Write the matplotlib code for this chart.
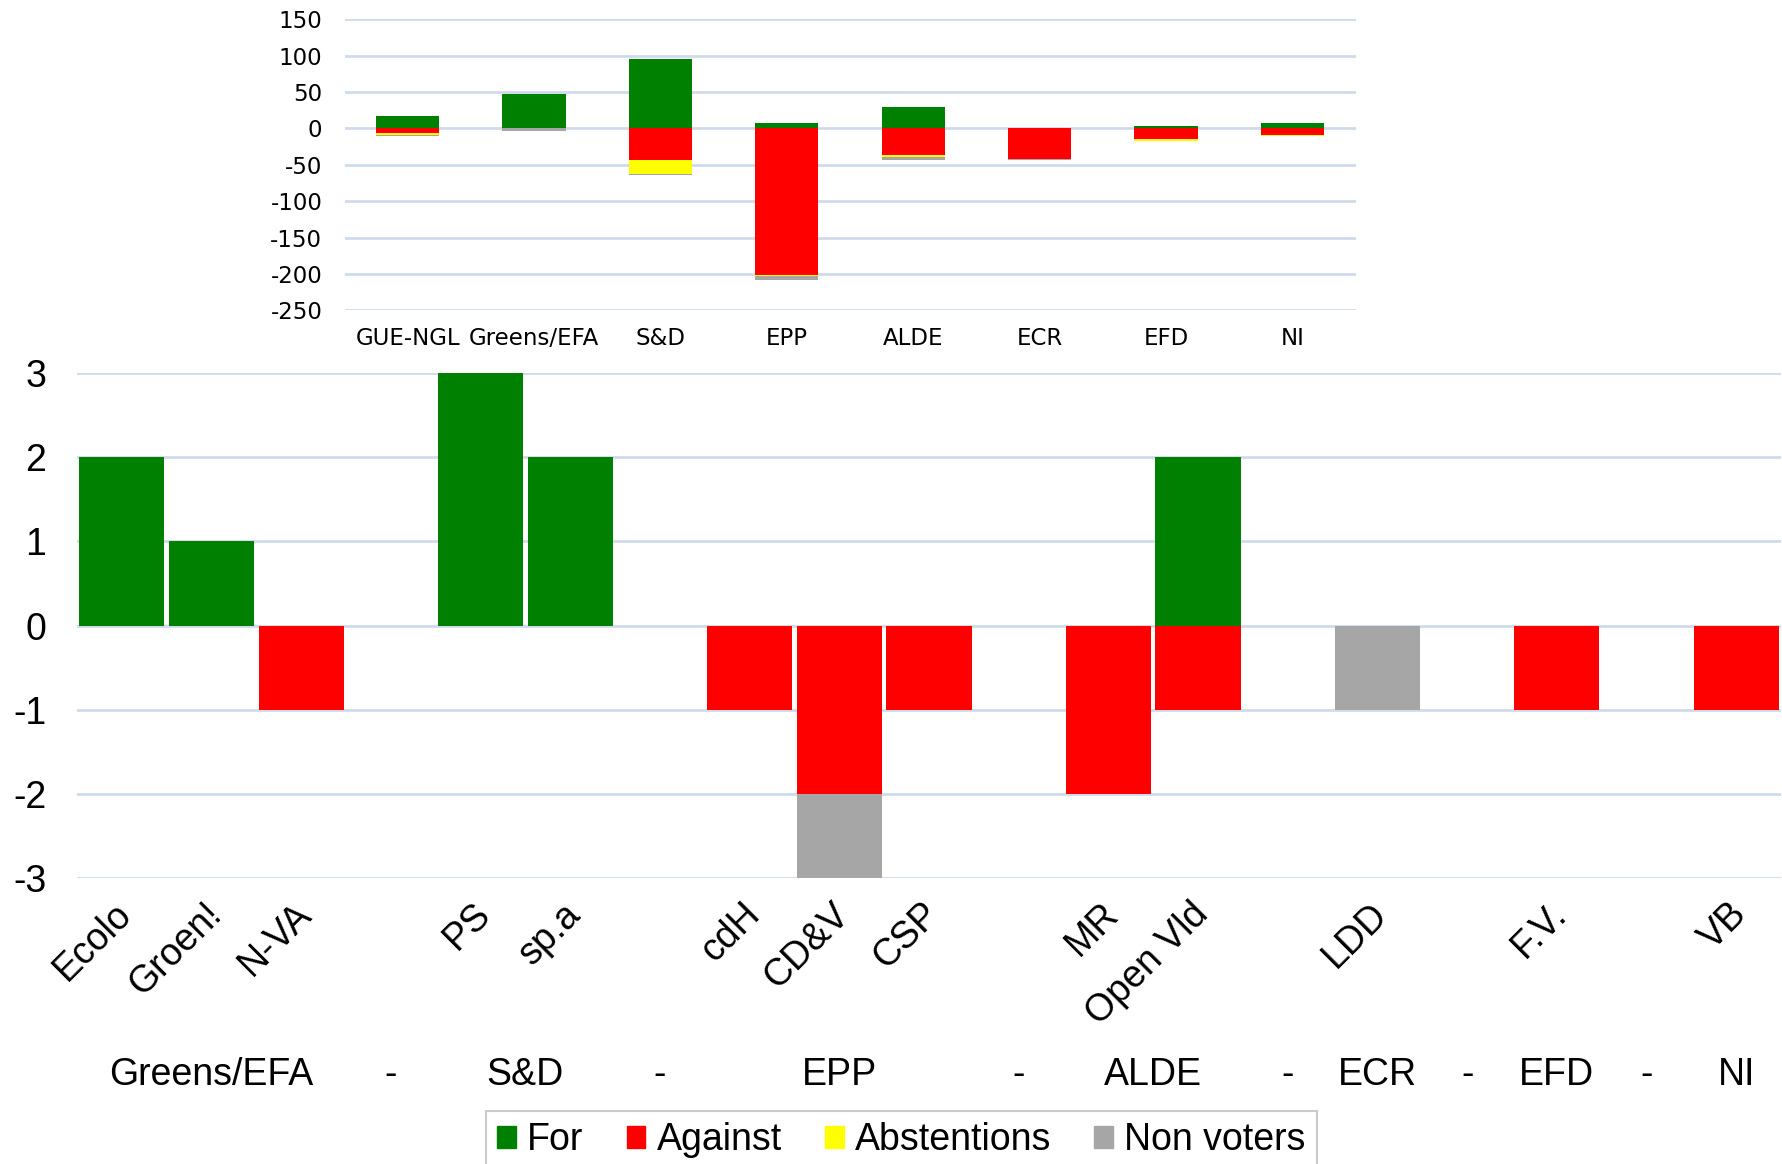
import numpy as np
import matplotlib
matplotlib.use("Agg")
import matplotlib.pyplot as plt
from matplotlib.patches import Patch
from matplotlib.transforms import blended_transform_factory, offset_copy

# European Parliament groups (inset chart)
ep_groups = ["GUE-NGL", "Greens/EFA", "S&D", "EPP", "ALDE", "ECR", "EFD", "NI"]
ep_for = [17, 48, 96, 7, 30, 0, 3, 7]
ep_against = [6, 0, 43, 202, 37, 42, 15, 9]
ep_abst = [3, 0, 19, 1, 2, 0, 2, 2]
ep_non = [1, 4, 2, 5, 4, 1, 0, 0]

# Belgian MEPs by party (main chart), empty slots separate the groups
parties = ["Ecolo", "Groen!", "N-VA", "", "PS", "sp.a", "", "cdH", "CD&V", "CSP", "",
           "MR", "Open Vld", "", "LDD", "", "F.V.", "", "VB"]
be_for = [2, 1, 0, 0, 3, 2, 0, 0, 0, 0, 0, 0, 2, 0, 0, 0, 0, 0, 0]
be_against = [0, 0, 1, 0, 0, 0, 0, 1, 2, 1, 0, 2, 1, 0, 0, 0, 1, 0, 1]
be_abst = [0] * 19
be_non = [0, 0, 0, 0, 0, 0, 0, 0, 1, 0, 0, 0, 0, 0, 1, 0, 0, 0, 0]
group_names = ["Greens/EFA", "-", "S&D", "-", "EPP", "-", "ALDE", "-", "ECR", "-", "EFD", "-", "NI"]
group_sizes = [3, 1, 2, 1, 3, 1, 2, 1, 1, 1, 1, 1, 1]

C_FOR, C_AGAINST, C_ABST, C_NON = "#008000", "#FF0000", "#FFFF00", "#A6A6A6"
GRID = "#D0DAEA"
FS = 27


def stacked(ax, x, f, a, ab, n, width):
    f, a, ab, n = map(np.asarray, (f, a, ab, n))
    ax.bar(x, f, width, color=C_FOR, zorder=2)
    ax.bar(x, -a, width, color=C_AGAINST, zorder=2)
    ax.bar(x, -ab, width, bottom=-a, color=C_ABST, zorder=2)
    ax.bar(x, -n, width, bottom=-a - ab, color=C_NON, zorder=2)


def clean(ax):
    for s in ax.spines.values():
        s.set_visible(False)
    ax.tick_params(length=0)
    ax.yaxis.grid(True, color=GRID, linewidth=2)
    ax.set_axisbelow(True)


W, H = 1783, 1164
fig = plt.figure(figsize=(W / 100, H / 100), dpi=100)

# main chart
ax = fig.add_axes([77 / W, 1 - 878 / H, (1781 - 77) / W, 505 / H])
x = np.arange(len(parties))
stacked(ax, x, be_for, be_against, be_abst, be_non, 0.95)
ax.set_xlim(-0.5, len(parties) - 0.5)
ax.set_ylim(-3, 3)
ax.set_yticks(range(-3, 4))
ax.set_yticklabels([str(v) for v in range(-3, 4)], family="Liberation Sans", fontsize=FS)
clean(ax)
ax.tick_params(axis="y", pad=22)
ax.set_xticks([])

# rotated party names
lab_tr = offset_copy(blended_transform_factory(ax.transData, ax.transAxes),
                     fig=fig, x=-8, y=-18, units="dots")
for xi, name in zip(x, parties):
    if name:
        ax.text(xi, 0, name, transform=lab_tr, rotation=45, rotation_mode="anchor",
                ha="right", va="top", family="Liberation Sans", fontsize=FS)

# group names under the party names
grp_tr = blended_transform_factory(ax.transData, fig.transFigure)
start = 0
for name, size in zip(group_names, group_sizes):
    ax.text(start + (size - 1) / 2, 1 - 1075 / H, name, transform=grp_tr,
            ha="center", va="center", family="Liberation Sans", fontsize=FS)
    start += size

# inset chart with the EP groups
ax2 = fig.add_axes([344.5 / W, 1 - 310.4 / H, 1011 / W, 291.1 / H])
x2 = np.arange(len(ep_groups))
stacked(ax2, x2, ep_for, ep_against, ep_abst, ep_non, 0.5)
ax2.set_xlim(-0.5, len(ep_groups) - 0.5)
ax2.set_ylim(-250, 150)
ax2.set_yticks(range(-250, 151, 50))
ax2.set_yticklabels([str(v) for v in range(-250, 151, 50)], family="DejaVu Sans", fontsize=16.5)
ax2.set_xticks(x2)
ax2.set_xticklabels(ep_groups, family="DejaVu Sans", fontsize=16.5)
clean(ax2)
ax2.tick_params(axis="y", pad=16)
ax2.tick_params(axis="x", pad=12)

handles = [Patch(color=c) for c in (C_FOR, C_AGAINST, C_ABST, C_NON)]
leg = fig.legend(handles, ["For", "Against", "Abstentions", "Non voters"],
                 loc="upper center", bbox_to_anchor=(901.5 / W, 1 - 1111 / H),
                 borderaxespad=0, ncol=4, frameon=True, fancybox=False, edgecolor="#BFBFBF",
                 prop={"family": "Liberation Sans", "size": FS},
                 handlelength=0.5, handleheight=0.5, handletextpad=0.3,
                 columnspacing=1.15, borderpad=0.3)
leg.get_frame().set_linewidth(1.5)

fig.savefig("out.png", dpi=100)
